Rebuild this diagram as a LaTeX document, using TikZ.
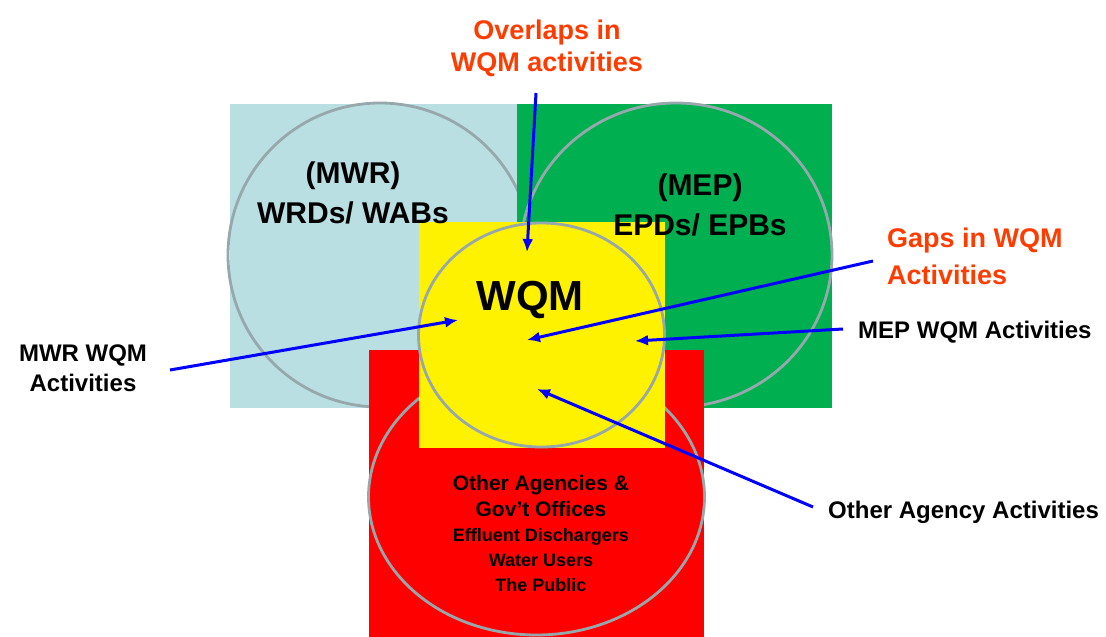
\documentclass[tikz,border=0pt]{standalone}
\usepackage{fontspec}
\setmainfont{Liberation Sans}
\usetikzlibrary{arrows.meta}
\definecolor{lblue}{RGB}{185,223,227}
\definecolor{mgreen}{RGB}{0,175,80}
\definecolor{ringc}{RGB}{150,168,172}
\definecolor{callout}{RGB}{255,60,0}
\begin{document}
\begin{tikzpicture}[x=1pt,y=-1pt,
  ring/.style={draw=ringc, line width=2.8pt},
  lbl/.style={font=\bfseries\fontsize{24}{29.5}\selectfont, inner sep=0pt, align=center},
  big/.style={font=\bfseries\fontsize{30}{40}\selectfont, inner sep=0pt, align=center},
  red lbl/.style={font=\bfseries\fontsize{27}{32}\selectfont, text=callout, inner sep=0pt},
  arr/.style={draw=blue, line width=3pt, -{Latex[length=13pt,width=11pt]}}]
\useasboundingbox (0,0) rectangle (1106,637);
% background blocks
\fill[lblue] (230,104) rectangle (517,408);
\draw[ring] (380,255) ellipse [x radius=152pt, y radius=152pt];
\fill[mgreen] (517,104) rectangle (832,408);
\draw[ring] (676,255) ellipse [x radius=156pt, y radius=152pt];
\fill[red] (369,350) rectangle (704,637);
\draw[ring] (536.5,497) ellipse [x radius=168pt, y radius=138pt];
\fill[yellow] (419,222) rectangle (665,448);
\draw[ring] (541.5,335) ellipse [x radius=123pt, y radius=112pt];
% texts
\node[big] (mwr) at (353,193) {(MWR)\\WRDs/ WABs};
\node[big] (mep) at (700,205) {(MEP)\\EPDs/ EPBs};
\node[font=\bfseries\fontsize{42}{48}\selectfont, inner sep=0pt] (wqm) at (530,300) {WQM};
\node[font=\bfseries\fontsize{18}{25}\selectfont, inner sep=0pt, align=center] (other) at (541,533)
  {{\fontsize{21}{27}\selectfont Other Agencies \&}\\[1pt]{\fontsize{21}{27}\selectfont Gov’t Offices}\\Effluent Dischargers\\Water Users\\The Public};
\node[red lbl, align=center] (ovl) at (547,48) {Overlaps in\\WQM activities};
\node[red lbl, align=left, anchor=west, font=\bfseries\fontsize{27}{37}\selectfont] (gaps) at (887,256) {Gaps in WQM\\Activities};
\node[lbl] (mwrq) at (83,368) {MWR WQM\\Activities};
\node[lbl, anchor=west] (mepq) at (858,332.5) {MEP WQM Activities};
\node[lbl, anchor=west] (otha) at (828,512) {Other Agency Activities};
% arrows
\coordinate (ovS) at (536,93);   \coordinate (ovT) at (527,252);
\coordinate (mwS) at (170,370);  \coordinate (mwT) at (458,320);
\coordinate (gpS) at (873,261);  \coordinate (gpT) at (527,340);
\coordinate (meS) at (843,329);  \coordinate (meT) at (635,341);
\coordinate (oaS) at (813,507);  \coordinate (oaT) at (537,389);
\draw[arr] (ovS) -- (ovT);
\draw[arr] (mwS) -- (mwT);
\draw[arr] (gpS) -- (gpT);
\draw[arr] (meS) -- (meT);
\draw[arr] (oaS) -- (oaT);
\end{tikzpicture}
\end{document}
